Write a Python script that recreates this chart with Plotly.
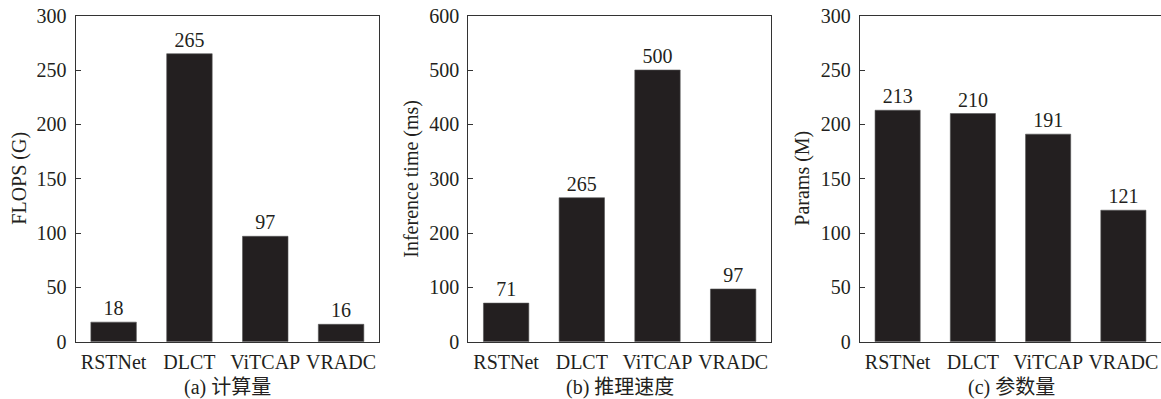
import plotly.graph_objects as go

categories = ["RSTNet", "DLCT", "ViTCAP", "VRADC"]
flops = [18, 265, 97, 16]
inference_ms = [71, 265, 500, 97]
params_m = [213, 210, 191, 121]

y_titles = ["FLOPS (G)", "Inference time (ms)", "Params (M)"]
captions = ["(a) 计算量", "(b) 推理速度", "(c) 参数量"]
y_ranges = [[0, 300], [0, 600], [0, 300]]
y_dticks = [50, 100, 50]

W, H = 1161, 399
BAR = "#231f20"
INK = "#231f20"
SERIF = "Liberation Serif, Times New Roman, serif"
CJK = "Liberation Serif, Noto Sans CJK SC, serif"

left_px = [75.7, 468.3, 860.0]
right_px = [379.0, 771.0, 1161.0]
top_px, bottom_px = 15.7, 341.7
title_x_px = [20, 412, 803]

fig = go.Figure()
series = [flops, inference_ms, params_m]
for i, vals in enumerate(series):
    xa = "x" if i == 0 else f"x{i+1}"
    ya = "y" if i == 0 else f"y{i+1}"
    fig.add_trace(go.Bar(
        x=categories, y=vals, xaxis=xa, yaxis=ya,
        marker=dict(color=BAR, line=dict(color="#555", width=0.6)),
        text=[str(v) for v in vals], textposition="outside",
        textfont=dict(family=SERIF, size=20, color=INK),
        cliponaxis=False, showlegend=False, width=0.6,
    ))

layout = dict(
    width=W, height=H, margin=dict(l=0, r=0, t=0, b=0, pad=0, autoexpand=False),
    paper_bgcolor="white", plot_bgcolor="white",
    font=dict(family=SERIF, size=20, color=INK),
    annotations=[],
)
ydom = [1 - bottom_px / H, 1 - top_px / H]
for i in range(3):
    sx = "" if i == 0 else str(i + 1)
    xr = [-0.5, 3.5]
    layout[f"xaxis{sx}"] = dict(
        domain=[left_px[i] / W, min(right_px[i] / W, 1.0)],
        anchor=f"y{sx}", range=xr, showline=True, mirror=True,
        linecolor="#333", linewidth=1.3, ticks="", showgrid=False,
        automargin=False, ticklabelstandoff=2,
        tickfont=dict(family=SERIF, size=20, color=INK), fixedrange=True,
    )
    layout[f"yaxis{sx}"] = dict(
        domain=ydom, anchor=f"x{sx}", range=y_ranges[i], dtick=y_dticks[i],
        showline=True, mirror=True, linecolor="#333", linewidth=1.3,
        ticks="inside", ticklen=5, tickcolor="#333", showgrid=False,
        automargin=False, ticklabelstandoff=4,
        zeroline=False, tickfont=dict(family=SERIF, size=20, color=INK),
    )
    layout["annotations"].append(dict(
        text=y_titles[i], xref="paper", yref="paper",
        x=title_x_px[i] / W, y=1 - 178.7 / H, textangle=-90,
        showarrow=False, xanchor="center", yanchor="middle",
        font=dict(family=SERIF, size=20, color=INK),
    ))
    cx = (left_px[i] + (right_px[i] if i < 2 else 1163)) / 2
    layout["annotations"].append(dict(
        text=captions[i], xref="paper", yref="paper",
        x=cx / W, y=1 - 387 / H, showarrow=False,
        xanchor="center", yanchor="middle",
        font=dict(family=CJK, size=20, color=INK),
    ))

fig.update_layout(**layout)
fig.write_html("out.html")
